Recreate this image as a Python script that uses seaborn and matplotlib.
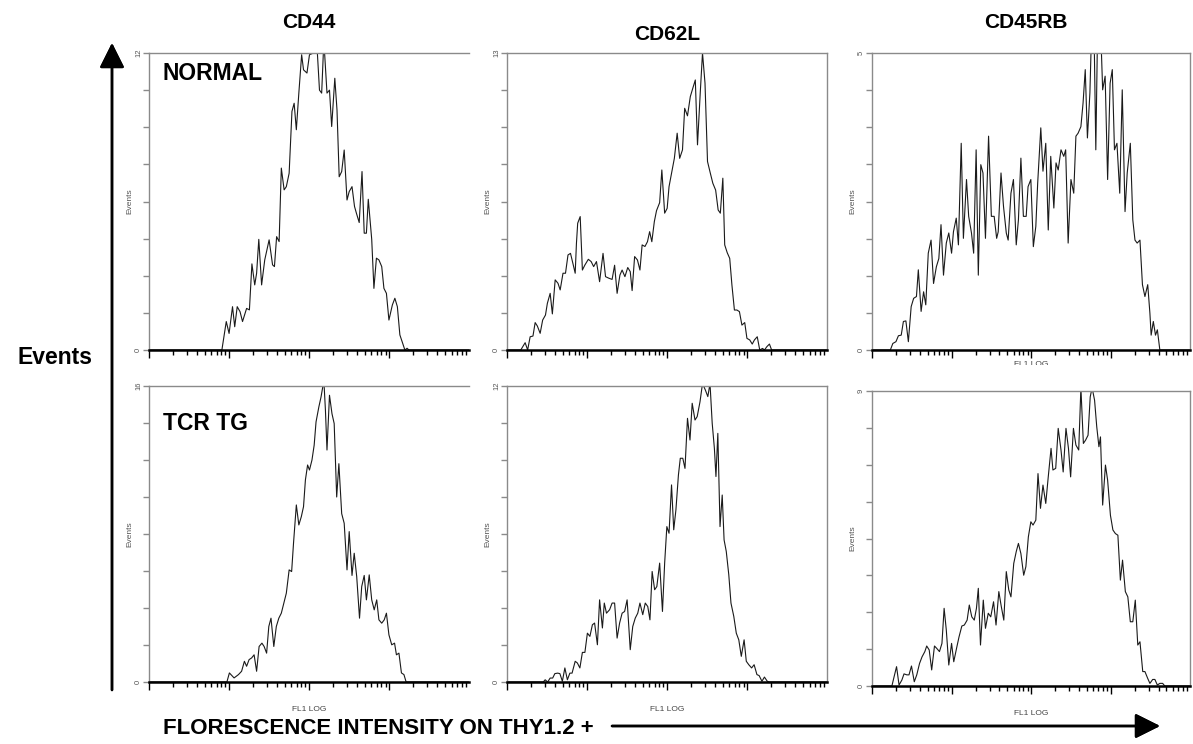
import numpy as np
import pandas as pd
import matplotlib
matplotlib.use("Agg")
import matplotlib.pyplot as plt
import seaborn as sns
from matplotlib.ticker import LogLocator, NullFormatter, FixedLocator
from matplotlib.patches import Rectangle

sns.set_style("white")
plt.rcParams['font.family'] = ['Liberation Sans', 'DejaVu Sans']
plt.rcParams['text.color'] = 'black'

# channel (1024 channels over 4 log decades) and events
nor_cd44_ch = [0, 222, 233, 247, 256, 267, 274, 282, 291, 299, 312, 321, 329, 338, 344, 351, 360, 370, 384, 395,
               401, 408, 416, 423, 432, 439, 448, 457, 464, 471, 479, 488, 494, 505, 513, 526, 536, 545, 552, 559,
               569, 577, 584, 594, 601, 608, 616, 624, 633, 640, 649, 657, 663, 672, 681, 688, 695, 701, 712, 719,
               727, 735, 744, 751, 759, 767, 778, 786, 794, 802, 811, 818, 825, 831, 1023]
nor_cd44_ev = [0, 0, 0, 1.15, 0.67, 1.75, 0.94, 1.75, 1.55, 1.15, 1.68, 1.62, 3.48, 2.63, 3.1, 4.47, 2.63, 3.64, 4.45, 3.44,
               3.37, 4.58, 4.38, 7.35, 6.47, 6.6, 7.14, 9.64, 9.97, 8.9, 10.38, 11.93, 11.32, 11.19, 11.93, 12, 12.5, 10.5, 10.38, 12.5,
               10.38, 10.5, 9.03, 10.98, 9.7, 7.0, 7.21, 8.08, 6.06, 6.4, 6.6, 5.8, 5.53, 5.15, 7.21, 4.72, 4.72, 6.09, 4.47, 2.49,
               3.71, 3.64, 3.37, 2.49, 2.29, 1.21, 1.82, 2.09, 1.75, 0.61, 0.27, 0, 0.07, 0, 0]

nor_cd62l_ch = [0, 44, 58, 66, 74, 83, 90, 97, 106, 114, 123, 129, 138, 145, 154, 163, 170, 179, 187, 195,
                203, 211, 218, 222, 226, 234, 241, 249, 260, 269, 277, 286, 296, 307, 315, 326, 336, 344, 352, 361,
                368, 377, 386, 394, 400, 408, 417, 425, 432, 441, 449, 456, 463, 471, 478, 488, 495, 504, 512, 518,
                528, 535, 544, 552, 561, 568, 577, 586, 594, 602, 609, 618, 625, 633, 641, 650, 658, 667, 675, 682,
                690, 696, 704, 712, 719, 727, 735, 743, 751, 760, 767, 776, 784, 791, 800, 808, 817, 823, 831, 839,
                846, 1023]
nor_cd62l_ev = [0, 0, 0.32, 0, 0.58, 0.61, 1.2, 1.05, 0.73, 1.31, 1.53, 2.04, 2.48, 1.58, 3.07, 2.92, 2.63, 3.36, 3.36, 4.16,
                4.23, 3.77, 3.36, 4.67, 5.55, 5.84, 3.5, 3.72, 3.97, 3.87, 3.65, 3.87, 2.99, 4.23, 3.21, 3.14, 3.09, 3.71, 2.48, 3.28,
                3.5, 3.21, 3.61, 3.43, 2.6, 4.09, 3.94, 3.5, 4.6, 4.53, 4.74, 5.18, 4.74, 5.62, 6.1, 6.45, 7.88, 5.99, 6.2, 7.15,
                7.88, 8.39, 9.49, 8.39, 8.76, 10.58, 10.25, 11.09, 11.46, 11.82, 8.98, 11.31, 13, 11.68, 8.25, 7.74, 7.3, 7.0, 6.13, 5.99,
                7.52, 4.6, 4.26, 4.01, 2.85, 1.75, 1.75, 1.68, 1.09, 1.2, 0.51, 0.44, 0.26, 0.44, 0.58, 0, 0.07, 0, 0.15, 0.26,
                0, 0]

nor_cd45rb_ch = [0, 59, 67, 77, 85, 94, 101, 109, 117, 126, 134, 143, 149, 158, 166, 173, 181, 190, 198, 207,
                 215, 222, 230, 239, 247, 256, 262, 271, 278, 287, 294, 304, 311, 320, 327, 335, 342, 350, 357, 365,
                 375, 384, 393, 401, 406, 415, 423, 432, 438, 447, 455, 464, 471, 479, 487, 496, 502, 511, 519, 527,
                 533, 543, 550, 559, 567, 575, 585, 592, 599, 608, 617, 623, 631, 640, 649, 656, 663, 672, 679, 686,
                 693, 701, 707, 714, 720, 726, 735, 742, 750, 758, 766, 773, 780, 788, 797, 805, 814, 821, 831, 839,
                 846, 853, 862, 870, 878, 887, 894, 898, 905, 912, 918, 926, 1023]
nor_cd45rb_ev = [0, 0, 0.11, 0.14, 0.24, 0.25, 0.48, 0.49, 0.14, 0.73, 0.87, 0.9, 1.35, 0.65, 0.98, 0.76, 1.63, 1.85, 1.12, 1.4,
                 1.54, 2.11, 1.26, 1.8, 1.97, 1.63, 1.99, 2.22, 1.77, 3.48, 1.88, 2.87, 2.25, 1.97, 1.63, 3.37, 1.26, 3.12, 2.98, 1.88,
                 3.6, 2.25, 2.25, 1.88, 1.99, 2.98, 2.42, 1.97, 1.85, 2.64, 2.87, 1.77, 2.19, 3.23, 2.25, 2.25, 2.75, 2.87, 1.74, 2.08,
                 2.81, 3.74, 3.01, 3.48, 2.02, 3.26, 2.39, 3.15, 3.03, 3.37, 3.26, 3.37, 1.8, 2.87, 2.64, 3.6, 3.65, 3.76, 4.16, 4.72,
                 3.57, 4.33, 5.5, 5.5, 3.37, 5.5, 5.5, 4.38, 4.61, 2.87, 4.49, 4.72, 3.37, 3.48, 2.64, 4.38, 2.33, 2.98, 3.48, 2.19,
                 1.85, 1.8, 1.85, 1.1, 0.9, 1.1, 0.62, 0.25, 0.48, 0.25, 0.34, 0, 0]

tcr_cd44_ch = [0, 222, 249, 257, 272, 286, 296, 305, 312, 320, 328, 336, 344, 352, 361, 368, 376, 383, 390, 399,
               407, 415, 423, 431, 439, 448, 456, 462, 471, 479, 487, 494, 500, 507, 513, 521, 528, 534, 543, 550,
               559, 564, 569, 577, 585, 592, 600, 607, 616, 624, 633, 640, 649, 656, 664, 673, 680, 688, 695, 704,
               712, 720, 728, 735, 744, 752, 759, 767, 776, 785, 791, 799, 807, 815, 822, 1023]
tcr_cd44_ev = [0, 0, 0, 0.49, 0.22, 0.4, 0.58, 1.12, 0.85, 1.21, 1.3, 1.47, 0.58, 1.92, 2.1, 1.92, 1.56, 3.0, 3.45, 1.92,
               3.0, 3.45, 3.72, 4.26, 4.8, 6.06, 5.97, 7.5, 9.57, 8.49, 8.94, 9.48, 10.92, 11.73, 11.46, 12.0, 12.8, 14.06, 14.87, 15.41,
               16.3, 14.7, 12.54, 15.5, 14.5, 13.97, 10.0, 11.8, 9.1, 8.58, 6.06, 8.13, 5.76, 6.96, 5.7, 3.45, 5.16, 5.76, 4.44, 5.79,
               4.44, 3.9, 4.44, 3.36, 3.18, 3.36, 3.72, 2.55, 2.01, 2.1, 1.47, 1.56, 0.49, 0.4, 0, 0]

tcr_cd62l_ch = [0, 116, 122, 130, 138, 146, 153, 162, 169, 177, 185, 193, 201, 208, 218, 225, 233, 241, 249, 257,
                265, 273, 280, 289, 296, 305, 311, 318, 328, 336, 344, 352, 360, 368, 376, 384, 394, 402, 410, 418,
                425, 434, 442, 450, 457, 464, 472, 479, 488, 497, 504, 511, 518, 526, 533, 540, 548, 554, 562, 569,
                577, 585, 592, 601, 608, 617, 625, 634, 642, 649, 656, 663, 668, 674, 681, 688, 694, 701, 709, 716,
                725, 733, 741, 749, 758, 765, 773, 782, 790, 799, 806, 815, 823, 832, 838, 1023]
tcr_cd62l_ev = [0, 0, 0.09, 0, 0.16, 0.16, 0.34, 0.36, 0.34, 0.03, 0.57, 0.09, 0.36, 0.36, 0.84, 0.77, 0.57, 1.2, 1.2, 1.98,
                1.85, 2.32, 2.39, 1.51, 3.33, 2.19, 3.2, 2.79, 2.93, 3.2, 3.2, 1.78, 2.39, 2.79, 2.86, 3.33, 1.31, 2.25, 2.59, 2.79,
                3.2, 2.73, 3.2, 3.06, 2.52, 4.48, 3.74, 3.87, 4.82, 2.86, 4.82, 6.3, 6.03, 7.99, 6.17, 6.98, 8.39, 9.07, 9.07, 8.66,
                10.69, 9.81, 11.3, 10.62, 10.76, 11.36, 12.1, 11.84, 11.57, 12.1, 10.49, 9.47, 8.33, 10.08, 6.3, 7.58, 5.76, 5.29, 4.35, 3.2,
                2.66, 1.98, 1.71, 1.04, 1.71, 0.84, 0.7, 0.57, 0.7, 0.3, 0.26, 0.03, 0.2, 0.03, 0, 0]

tcr_cd45rb_ch = [0, 64, 71, 79, 87, 96, 103, 112, 119, 127, 136, 144, 153, 161, 170, 176, 184, 192, 201, 208,
                 217, 225, 232, 239, 247, 256, 263, 272, 280, 289, 297, 306, 313, 321, 329, 336, 342, 349, 358, 365,
                 374, 382, 391, 399, 408, 416, 424, 432, 440, 447, 456, 464, 471, 479, 488, 495, 503, 511, 518, 527,
                 534, 542, 550, 559, 567, 576, 582, 591, 599, 608, 615, 624, 632, 639, 648, 656, 665, 672, 680, 687,
                 695, 702, 708, 716, 723, 730, 735, 742, 751, 758, 767, 775, 783, 791, 799, 806, 815, 823, 831, 839,
                 847, 855, 862, 871, 878, 887, 894, 903, 910, 918, 926, 935, 942, 1023]
tcr_cd45rb_ev = [0, 0, 0.28, 0.59, 0.03, 0.18, 0.37, 0.34, 0.34, 0.61, 0.13, 0.34, 0.69, 0.89, 1.05, 1.22, 1.1, 0.49, 1.22, 1.15,
                 1.05, 1.3, 2.37, 1.71, 0.64, 1.3, 0.74, 1.15, 1.5, 1.83, 1.86, 2.01, 2.47, 2.11, 2.01, 2.37, 2.98, 1.25, 2.62, 1.76,
                 2.22, 2.11, 2.57, 1.86, 2.88, 2.42, 2.01, 3.49, 2.93, 2.72, 3.74, 4.1, 4.35, 4.04, 3.38, 3.64, 4.55, 5.01, 4.91, 5.06,
                 6.48, 5.42, 6.13, 5.57, 6.38, 7.25, 6.59, 6.64, 7.86, 7.2, 6.53, 7.86, 7.25, 6.38, 7.86, 7.35, 7.2, 9.1, 7.4, 7.5,
                 7.65, 8.82, 9.1, 8.72, 7.91, 7.3, 7.6, 5.52, 6.74, 6.28, 5.21, 4.76, 4.65, 4.6, 3.23, 3.84, 2.88, 2.72, 1.96, 1.96,
                 2.62, 1.25, 1.35, 0.44, 0.44, 0.23, 0.08, 0.2, 0.2, 0.03, 0.08, 0.08, 0, 0]

markers = ['CD44', 'CD62L', 'CD45RB']
groups = ['NORMAL', 'TCR TG']
y_max = [12, 13, 5, 16, 12, 9]

series = [(nor_cd44_ch, nor_cd44_ev), (nor_cd62l_ch, nor_cd62l_ev), (nor_cd45rb_ch, nor_cd45rb_ev),
          (tcr_cd44_ch, tcr_cd44_ev), (tcr_cd62l_ch, tcr_cd62l_ev), (tcr_cd45rb_ch, tcr_cd45rb_ev)]

frames = []
for i, (ch, ev) in enumerate(series):
    frames.append(pd.DataFrame({'panel': i,
                                'FL1': 10 ** (np.array(ch) / 256.0),
                                'Events': ev}))
df = pd.concat(frames, ignore_index=True)

W, H = 1193, 744
fig = plt.figure(figsize=(W / 100, H / 100), dpi=100)

# axes boxes in pixels: left, top, right, bottom
boxes = [(149, 53, 469, 350), (507, 53, 827, 350), (872, 53, 1190, 350),
         (149, 386, 469, 682), (507, 386, 827, 682), (872, 391, 1190, 686)]

grey = '#8a8a8a'
for i, (l, t, r, b) in enumerate(boxes):
    ax = fig.add_axes([l / W, 1 - b / H, (r - l) / W, (b - t) / H])
    ax.set_xscale('log')
    sns.lineplot(data=df[df['panel'] == i], x='FL1', y='Events', estimator=None,
                 ax=ax, color='#1a1a1a', linewidth=0.8)
    ax.set_xlim(1, 10 ** (1023 / 256.0))
    ax.set_ylim(0, y_max[i])

    ax.xaxis.set_major_locator(FixedLocator([1, 10, 100, 1000, 10000]))
    ax.xaxis.set_minor_locator(LogLocator(base=10, subs=range(2, 10), numticks=20))
    ax.xaxis.set_major_formatter(NullFormatter())
    ax.xaxis.set_minor_formatter(NullFormatter())
    ax.tick_params(axis='x', which='major', direction='out', length=6, width=1, color='black', bottom=True)
    ax.tick_params(axis='x', which='minor', direction='out', length=3.5, width=1, color='black', bottom=True)

    yt = np.linspace(0, y_max[i], 9)
    ax.set_yticks(yt)
    ax.set_yticklabels(['0'] + [''] * 7 + [str(y_max[i])], rotation=90, va='center',
                       fontsize=5.5, color='#555555')
    ax.tick_params(axis='y', direction='out', length=4, width=1, color=grey, left=True, pad=1)

    ax.spines['bottom'].set_color('black')
    ax.spines['bottom'].set_linewidth(1.8)
    for s in ['top', 'left', 'right']:
        ax.spines[s].set_color(grey)
        ax.spines[s].set_linewidth(1.0)
    if i % 3 == 0:
        ax.spines['right'].set_visible(False)

    ax.set_ylabel('Events', fontsize=6, color='#555555', labelpad=1)
    if i >= 3:
        ax.set_xlabel('FL1 LOG', fontsize=6, color='#444444', labelpad=8)
    else:
        ax.set_xlabel('')

# the "FL1 LOG" of the top right panel is cut off in the original
fig.text(1031 / W, 1 - 361 / H, 'FL1 LOG', fontsize=6, color='#444444', ha='center', va='top')
fig.patches.append(Rectangle((860 / W, 1 - 386 / H), 330 / W, 21 / H, transform=fig.transFigure,
                             facecolor='white', edgecolor='none', zorder=5))

# column headers and row labels
fig.text(309 / W, 1 - 22 / H, markers[0], fontsize=15, fontweight='bold', ha='center', va='center')
fig.text(667 / W, 1 - 35 / H, markers[1], fontsize=15, fontweight='bold', ha='center', va='center')
fig.text(1026 / W, 1 - 22 / H, markers[2], fontsize=15, fontweight='bold', ha='center', va='center')
fig.text(163 / W, 1 - 73 / H, groups[0], fontsize=16.5, fontweight='bold', ha='left', va='center')
fig.text(163 / W, 1 - 423 / H, groups[1], fontsize=16.5, fontweight='bold', ha='left', va='center')
fig.text(55 / W, 1 - 358 / H, 'Events', fontsize=16.5, fontweight='bold', ha='center', va='center')
fig.text(163 / W, 1 - 728 / H, 'FLORESCENCE INTENSITY ON THY1.2 +', fontsize=16,
         fontweight='bold', ha='left', va='center')

# big axis arrows
arrow = dict(arrowstyle='-|>,head_length=0.4,head_width=0.2', lw=1.8, color='black',
             mutation_scale=38, shrinkA=0, shrinkB=0)
fig.add_artist(plt.annotate('', xy=(112, H - 43), xytext=(112, H - 690),
                            xycoords='figure pixels', textcoords='figure pixels', arrowprops=arrow))
fig.add_artist(plt.annotate('', xy=(1160, H - 726), xytext=(612, H - 726),
                            xycoords='figure pixels', textcoords='figure pixels', arrowprops=arrow))

fig.savefig('out.png', dpi=100)
